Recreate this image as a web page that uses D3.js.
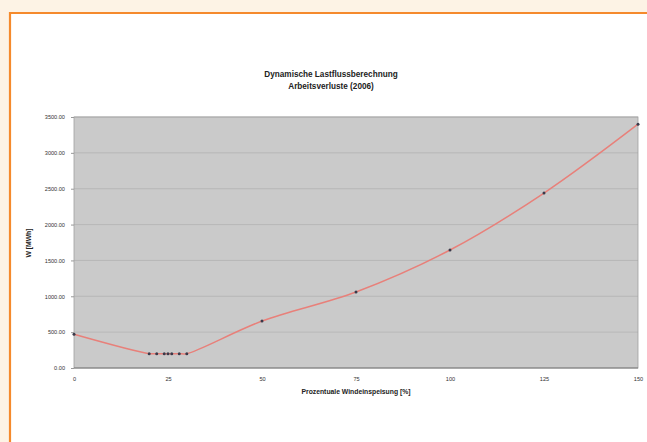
<!DOCTYPE html>
<html>
<head>
<meta charset="utf-8">
<script src="https://cdn.jsdelivr.net/npm/d3@7/dist/d3.min.js"></script>
<style>
  html, body { margin: 0; padding: 0; background: #fdf3e5; }
  svg { display: block; }
</style>
</head>
<body>
<script>
// Wind share (%) and work losses (MWh)
const windShare = [0, 20, 22, 24, 25, 26, 28, 30, 50, 75, 100, 125, 150];
const losses    = [470, 200, 200, 200, 200, 200, 200, 200, 655, 1060, 1645, 2440, 3400];
const xTicks = [0, 25, 50, 75, 100, 125, 150];
const yTicks = [0, 500, 1000, 1500, 2000, 2500, 3000, 3500];
const titleLines = ["Dynamische Lastflussberechnung", "Arbeitsverluste (2006)"];
const xLabel = "Prozentuale Windeinspeisung [%]";
const yLabel = "W [MWh]";

const W = 647, H = 442;
const svg = d3.select("body").append("svg").attr("width", W).attr("height", H);

// page frame: cream margin, orange rule, white card
svg.append("rect").attr("width", W).attr("height", H).attr("fill", "#fdf3e5");
svg.append("rect").attr("x", 10).attr("y", 13).attr("width", W - 10).attr("height", H - 13)
  .attr("fill", "#ffffff");
svg.append("path").attr("d", `M10,${H} V13 H${W}`)
  .attr("fill", "none").attr("stroke", "#f58a2c").attr("stroke-width", 2.2);

const plot = { left: 74, right: 638, top: 117, bottom: 368 };
const x = d3.scaleLinear().domain([0, 150]).range([plot.left, plot.right]);
const y = d3.scaleLinear().domain([0, 3500]).range([plot.bottom, plot.top]);

// plot background
svg.append("rect")
  .attr("x", plot.left).attr("y", plot.top)
  .attr("width", plot.right - plot.left).attr("height", plot.bottom - plot.top)
  .attr("fill", "#cacaca");

// horizontal gridlines
svg.append("g").selectAll("line").data(yTicks.filter(d => d > 0)).join("line")
  .attr("x1", plot.left).attr("x2", plot.right)
  .attr("y1", d => y(d)).attr("y2", d => y(d))
  .attr("stroke", "#b6b6b6").attr("stroke-width", 0.9);

// plot border
svg.append("rect")
  .attr("x", plot.left).attr("y", plot.top)
  .attr("width", plot.right - plot.left).attr("height", plot.bottom - plot.top)
  .attr("fill", "none").attr("stroke", "#a0a0a0").attr("stroke-width", 0.8);
svg.append("line").attr("x1", plot.left).attr("x2", plot.right)
  .attr("y1", plot.bottom).attr("y2", plot.bottom)
  .attr("stroke", "#7a7a7a").attr("stroke-width", 1.2);

// axes
const fmt = d3.format(".2f");
const yAxis = svg.append("g").attr("transform", `translate(${plot.left},0)`)
  .call(d3.axisLeft(y).tickValues(yTicks).tickFormat(fmt).tickSize(3).tickPadding(6));
const xAxis = svg.append("g").attr("transform", `translate(0,${plot.bottom})`)
  .call(d3.axisBottom(x).tickValues(xTicks).tickSize(0).tickPadding(9));
[yAxis, xAxis].forEach(a => {
  a.select(".domain").remove();
  a.selectAll("line").attr("stroke", "#999");
  a.selectAll("text")
    .attr("font-family", "Liberation Sans, Arial, sans-serif")
    .attr("font-size", 5.6).attr("fill", "#333");
});

// smoothed loss curve
const line = d3.line().x((d, i) => x(windShare[i])).y(d => y(d))
  .curve(d3.curveCatmullRom.alpha(0.5));
svg.append("path").datum(losses)
  .attr("d", line)
  .attr("fill", "none").attr("stroke", "#e8807a").attr("stroke-width", 1.5);

// data markers
svg.append("g").selectAll("circle").data(losses).join("circle")
  .attr("cx", (d, i) => x(windShare[i])).attr("cy", d => y(d))
  .attr("r", 1.5).attr("fill", "#3a3a4a");

// titles
svg.append("g").selectAll("text").data(titleLines).join("text")
  .attr("x", 331).attr("y", (d, i) => 77 + i * 12)
  .attr("text-anchor", "middle")
  .attr("font-family", "Liberation Sans, Arial, sans-serif")
  .attr("font-weight", "bold").attr("font-size", 8.2).attr("fill", "#222")
  .text(d => d);

svg.append("text")
  .attr("x", 356).attr("y", 394).attr("text-anchor", "middle")
  .attr("font-family", "Liberation Sans, Arial, sans-serif")
  .attr("font-weight", "bold").attr("font-size", 6.8).attr("fill", "#222")
  .text(xLabel);

svg.append("text")
  .attr("transform", "translate(31,243) rotate(-90)").attr("text-anchor", "middle")
  .attr("font-family", "Liberation Sans, Arial, sans-serif")
  .attr("font-weight", "bold").attr("font-size", 6.8).attr("fill", "#222")
  .text(yLabel);
</script>
</body>
</html>
